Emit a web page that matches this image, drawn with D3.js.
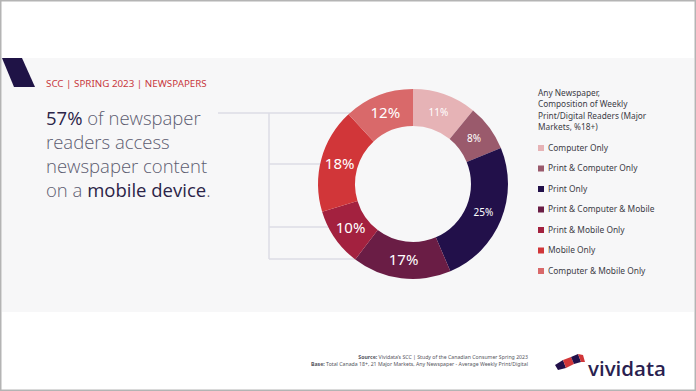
<!DOCTYPE html>
<html>
<head>
<meta charset="utf-8">
<script src="https://cdn.jsdelivr.net/npm/d3@7"></script>
<style>
  html, body { margin: 0; padding: 0; background: #ffffff; }
  svg { display: block; font-family: "Noto Sans", "Open Sans", sans-serif; }
</style>
</head>
<body>
<svg id="svgarea" width="696" height="391"></svg>
<script>
// chart data
const categories	= ['Computer Only', 'Print & Computer Only', 'Print Only', 'Print & Computer & Mobile', 'Print & Mobile Only', 'Mobile Only', 'Computer & Mobile Only'];
const shares		= [11, 8, 25, 17, 10, 18, 12];
const mobile		= [false, false, false, true, true, true, true];
const colors		= ['#e6b3b6', '#9a5a6c', '#22104a', '#6a1d45', '#a3213f', '#d13639', '#d9696a'];
const legendTitle	= ['Any Newspaper,', 'Composition of Weekly', 'Print/Digital Readers (Major', 'Markets, %18+)'];

var svg = d3.select('#svgarea');
var width = 696, height = 391;

// background panel + frame
svg.append('rect').attr('x', 0).attr('y', 0).attr('width', width).attr('height', height).attr('fill', '#ffffff');
svg.append('rect').attr('x', 2).attr('y', 58).attr('width', width - 4).attr('height', 254).attr('fill', '#f7f7f8');
svg.append('rect').attr('x', 0.5).attr('y', 0.5).attr('width', width - 1).attr('height', height - 1)
	.attr('fill', 'none').attr('stroke', '#b4b4b4').attr('stroke-width', 2);

// header mark + title
svg.append('polygon').attr('points', '2,58 22,58 35,87 14,87').attr('fill', '#1f1346');
svg.append('text').attr('x', 46).attr('y', 86.5).attr('fill', '#c8373d').attr('font-size', 9.8)
	.text('SCC | SPRING 2023 | NEWSPAPERS');

// headline
var head = svg.append('text').attr('x', 46).attr('y', 125).attr('font-size', 18.5)
	.attr('font-family', '"Open Sans", "Noto Sans", sans-serif');
var lines = [
	[['57%', true], [' of newspaper', false]],
	[['readers access', false]],
	[['newspaper content', false]],
	[['on a ', false], ['mobile device', true], ['.', false]]
];
lines.forEach(function(parts, i){
	parts.forEach(function(p, j){
		var t = head.append('tspan').text(p[0])
			.attr('fill', p[1] ? '#2b2448' : '#5c5c70')
			.attr('font-weight', p[1] ? 500 : 300);
		if(j === 0){ t.attr('x', 46).attr('dy', i === 0 ? 0 : 24); }
	});
});

// donut
var cx = 413, cy = 184, outerR = 95, innerR = 58;
var pie = d3.pie().sort(null).value(function(d){ return d; });
var arc = d3.arc().innerRadius(innerR).outerRadius(outerR);
var labelArc = d3.arc().innerRadius(76).outerRadius(76);
var arcs = pie(shares);

// bracket lines from the headline to the mobile slices
var bracket = svg.append('g').attr('stroke', '#dcdce6').attr('stroke-width', 1.5).attr('fill', 'none');
var bx = 269;
var ends = { 3: 380, 4: 332, 5: 320, 6: 350 };
var ys = [];
arcs.forEach(function(a, i){
	if(!mobile[i]) return;
	var c = labelArc.centroid(a);
	var y = Math.round(cy + c[1]);
	ys.push(y);
	bracket.append('line').attr('x1', bx).attr('x2', ends[i]).attr('y1', y).attr('y2', y);
});
bracket.append('line').attr('x1', bx).attr('x2', bx).attr('y1', d3.min(ys)).attr('y2', d3.max(ys));
bracket.append('line').attr('x1', 218).attr('x2', bx).attr('y1', d3.min(ys)).attr('y2', d3.min(ys));

var g = svg.append('g').attr('transform', 'translate(' + cx + ',' + cy + ')');
g.selectAll('path').data(arcs).enter().append('path')
	.attr('d', arc)
	.attr('fill', function(d, i){ return colors[i]; });
g.selectAll('text').data(arcs).enter().append('text')
	.attr('transform', function(d){ return 'translate(' + labelArc.centroid(d) + ')'; })
	.attr('text-anchor', 'middle').attr('dy', '0.35em')
	.attr('fill', '#ffffff')
	.attr('font-size', function(d, i){ return mobile[i] ? 15 : 10; })
	.text(function(d){ return d.data + '%'; });

// legend
var lg = svg.append('g').attr('transform', 'translate(538,0)');
lg.selectAll('text.title').data(legendTitle).enter().append('text').attr('class', 'title')
	.attr('x', 0).attr('y', function(d, i){ return 96 + i * 11.3; })
	.attr('font-size', 8.3).attr('fill', '#3c3c46').text(function(d){ return d; });
var rows = lg.selectAll('g.row').data(categories).enter().append('g').attr('class', 'row')
	.attr('transform', function(d, i){ return 'translate(0,' + (148 + i * 20.5) + ')'; });
rows.append('rect').attr('x', 0).attr('y', -3).attr('width', 6).attr('height', 6)
	.attr('fill', function(d, i){ return colors[i]; });
rows.append('text').attr('x', 10).attr('dy', '0.35em').attr('font-size', 8.4).attr('fill', '#3c3c46')
	.text(function(d){ return d; });

// footer
var foot = svg.append('g').attr('font-size', 5.2).attr('fill', '#555560').attr('text-anchor', 'end');
var s = foot.append('text').attr('x', 528).attr('y', 359);
s.append('tspan').attr('font-weight', 'bold').text('Source:');
s.append('tspan').text(' Vividata\u2019s SCC | Study of the Canadian Consumer Spring 2023');
var b = foot.append('text').attr('x', 528).attr('y', 366);
b.append('tspan').attr('font-weight', 'bold').text('Base:');
b.append('tspan').text(' Total Canada 18+, 21 Major Markets, Any Newspaper - Average Weekly Print/Digital');

// logo
var logo = svg.append('g');
logo.append('polygon').attr('points', '555,365 563,360 566,368 558,370').attr('fill', '#22104a');
logo.append('polygon').attr('points', '563,360 571,357 574,364 566,368').attr('fill', '#d13639');
logo.append('polygon').attr('points', '571,357 578,354 581,362 574,364').attr('fill', '#22104a');
logo.append('polygon').attr('points', '578,354 583,355 585,362 581,362').attr('fill', '#d13639');
logo.append('text').attr('x', 588).attr('y', 376).attr('font-size', 20.5).attr('font-weight', 600)
	.attr('font-family', '"Open Sans", "Noto Sans", sans-serif')
	.attr('fill', '#2a1f50').text('vividata');
</script>
</body>
</html>
